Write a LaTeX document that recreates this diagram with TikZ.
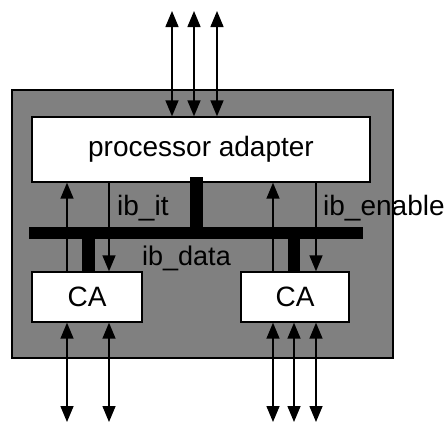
\documentclass[tikz,border=0pt]{standalone}
\usepackage{fontspec}
\setmainfont{Liberation Sans}
\usetikzlibrary{arrows.meta}
\begin{document}
\begin{tikzpicture}[x=1pt,y=-1pt,
  box/.style={draw=black,line width=1.4pt,fill=white,inner sep=0pt,font=\fontsize{28}{30}\selectfont},
  tip/.style={-{Triangle[length=16pt,width=13pt]}},
  dbl/.style={{Triangle[length=16pt,width=13pt]}-{Triangle[length=16pt,width=13pt]}},
  wire/.style={line width=1.5pt},
  lbl/.style={inner sep=0pt,font=\fontsize{28}{30}\selectfont},
  busbar/.style={fill=black,draw=none,inner sep=0pt}]
\useasboundingbox (0,0) rectangle (446,424);
% outer board
\node[draw=black,line width=1.4pt,fill=gray,inner sep=0pt,minimum width=381pt,minimum height=268pt] (board) at (202.5,224) {};
% blocks
\node[box,minimum width=338pt,minimum height=65pt] (pa) at (201,149.5) {processor adapter};
\node[box,minimum width=110pt,minimum height=50pt] (ca1) at (87,297) {CA};
\node[box,minimum width=108pt,minimum height=50pt] (ca2) at (295,297) {CA};
% bus
\node[busbar,minimum width=334pt,minimum height=12pt] (bus) at (196,233) {};
\node[busbar,minimum width=13pt,minimum height=50pt] (s0) at (196.5,202) {};
\node[busbar,minimum width=13pt,minimum height=34pt] (s1) at (88.5,255) {};
\node[busbar,minimum width=12pt,minimum height=34pt] (s2) at (294,255) {};
% top external arrows
\coordinate (t1) at (172,11);
\coordinate (t2) at (194,11);
\coordinate (t3) at (217,11);
\draw[wire,dbl] (t1) -- (t1 |- pa.north);
\draw[wire,dbl] (t2) -- (t2 |- pa.north);
\draw[wire,dbl] (t3) -- (t3 |- pa.north);
% internal signals
\draw[wire,tip] ([xshift=-20pt]ca1.north) -- ([xshift=-20pt]ca1.north |- pa.south);
\draw[wire,tip] ([xshift=22pt]ca1.north |- pa.south) -- ([xshift=22pt]ca1.north);
\draw[wire,tip] ([xshift=-22pt]ca2.north) -- ([xshift=-22pt]ca2.north |- pa.south);
\draw[wire,tip] ([xshift=21pt]ca2.north |- pa.south) -- ([xshift=21pt]ca2.north);
% labels
\node[lbl,anchor=base west] (lit) at (117,215) {ib\_it};
\node[lbl,anchor=base west] (len) at (323,215) {ib\_enable};
\node[lbl,anchor=base west,font=\fontsize{27}{30}\selectfont] (ldata) at (142,265) {ib\_data};
% bottom external arrows
\coordinate (b1) at (67,422);
\coordinate (b2) at (109,422);
\coordinate (b3) at (273,422);
\coordinate (b4) at (294,422);
\coordinate (b5) at (316,422);
\draw[wire,dbl] (b1 |- ca1.south) -- (b1);
\draw[wire,dbl] (b2 |- ca1.south) -- (b2);
\draw[wire,dbl] (b3 |- ca2.south) -- (b3);
\draw[wire,dbl] (b4 |- ca2.south) -- (b4);
\draw[wire,dbl] (b5 |- ca2.south) -- (b5);
\end{tikzpicture}
\end{document}
